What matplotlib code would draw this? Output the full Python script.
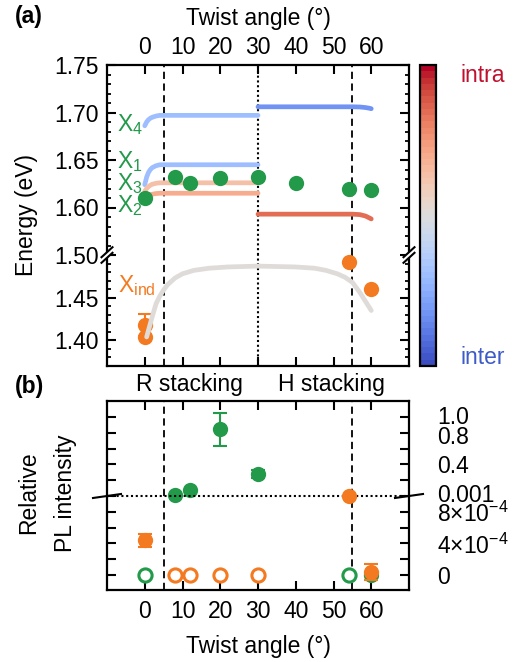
import matplotlib
matplotlib.use("Agg")
import matplotlib.pyplot as plt
import numpy as np
from matplotlib.transforms import ScaledTranslation
from matplotlib.patches import Polygon
from matplotlib.lines import Line2D
from matplotlib.cm import ScalarMappable
from matplotlib.colors import Normalize
from matplotlib.ticker import MultipleLocator

plt.rcParams.update({
    "font.family": ["Liberation Sans", "DejaVu Sans"],
    "font.size": 16.5,
    "mathtext.fontset": "custom",
    "mathtext.rm": "Liberation Sans",
    "mathtext.it": "Liberation Sans:italic",
    "mathtext.bf": "Liberation Sans:bold",
    "axes.linewidth": 1.6,
    "xtick.direction": "in",
    "ytick.direction": "in",
    "xtick.major.size": 6.5,
    "ytick.major.size": 6.5,
    "xtick.minor.size": 3.2,
    "ytick.minor.size": 3.2,
    "xtick.major.width": 1.5,
    "ytick.major.width": 1.5,
    "xtick.minor.width": 1.3,
    "ytick.minor.width": 1.3,
})

GREEN = "#23994a"
ORANGE = "#f47a22"
CMAP = plt.get_cmap("coolwarm", 48)

# ---------------- data: panel (a), PL peak energies ----------------
angles_direct = [0, 8, 12, 20, 30, 40, 54, 60]
energy_direct = [1.610, 1.632, 1.626, 1.631, 1.632, 1.6255, 1.619, 1.618]

angles_indirect = [0, 0, 54, 60]
energy_indirect = [1.418, 1.404, 1.492, 1.460]
energy_indirect_err = [0.013, 0.0, 0.0, 0.0]

# calculated exciton energies, R stacking (0-30 deg)
angles_R = [0, 0.5, 1, 1.5, 2, 3, 4, 6, 30]
energy_X4_R = [1.686, 1.690, 1.6925, 1.694, 1.695, 1.6963, 1.697, 1.697, 1.697]
energy_X1_R = [1.624, 1.632, 1.637, 1.640, 1.642, 1.644, 1.645, 1.645, 1.645]
energy_X3_R = [1.617, 1.620, 1.622, 1.6235, 1.6245, 1.6255, 1.626, 1.626, 1.626]
energy_X2_R = [1.609, 1.611, 1.6125, 1.6135, 1.614, 1.6147, 1.615, 1.615, 1.615]

# calculated exciton energies, H stacking (30-60 deg)
angles_H = [30, 55, 57, 58.5, 59.5, 60]
energy_X4_H = [1.706, 1.706, 1.7058, 1.7052, 1.7045, 1.704]
energy_X2_H = [1.593, 1.593, 1.5925, 1.591, 1.589, 1.588]

# calculated indirect exciton energy
angles_ind = [0.5, 1, 2, 3, 4, 5, 6, 8, 10, 13, 17, 22, 30, 40, 45, 48, 51,
              53, 55, 57, 59, 60]
energy_ind = [1.404, 1.412, 1.428, 1.443, 1.452, 1.459, 1.465, 1.473, 1.478,
              1.482, 1.4845, 1.486, 1.487, 1.486, 1.4845, 1.482, 1.478,
              1.474, 1.468, 1.456, 1.442, 1.435]

# intra/inter-layer character of each calculated state (0 = inter, 1 = intra)
char_X4_R, char_X1_R, char_X3_R, char_X2_R = 0.30, 0.31, 0.64, 0.69
char_X4_H, char_X2_H, char_ind = 0.17, 0.84, 0.50

# ---------------- data: panel (b), relative PL intensity ----------------
angles_dir_hi = [8, 12, 20, 30]
rel_dir_hi = [0.018, 0.072, 0.843, 0.276]
rel_dir_hi_err = [0.0, 0.0, 0.21, 0.05]

angles_dir_lo = [60]
rel_dir_lo = [0.0]

angles_ind_lo = [0, 54, 60]
rel_ind_lo = [4.4e-4, 1.0e-3, 0.4e-4]
rel_ind_lo_err = [0.85e-4, 0.0, 1.0e-4]

angles_dir_none = [0, 54]
angles_ind_none = [8, 12, 20, 30]

angle_ticks = [0, 10, 20, 30, 40, 50, 60]
stacking_boundaries = [5, 55]

# ---------------- layout ----------------
W, H = 515, 662
fig = plt.figure(figsize=(W / 100, H / 100), dpi=100)


def fax(x0, y0, x1, y1):
    return fig.add_axes([x0 / W, 1 - y1 / H, (x1 - x0) / W, (y1 - y0) / H])


def nudge(label, dy_px):
    label.set_transform(label.get_transform()
                        + ScaledTranslation(0, dy_px / 100,
                                            fig.dpi_scale_trans))


ax_ahi = fax(107, 65, 409, 255)
ax_alo = fax(107, 255, 409, 366)
ax_bhi = fax(107, 401, 409, 496)
ax_blo = fax(107, 496, 409, 590)
cax = fax(420, 65, 436, 366)

for ax in (ax_ahi, ax_alo, ax_bhi, ax_blo):
    ax.set_xlim(-10, 70)
    ax.set_xticks(angle_ticks)
    ax.tick_params(which="both", left=True, right=True, top=True, bottom=True)
    ax.patch.set_visible(False)

for ax in (ax_ahi, ax_bhi):
    ax.spines["bottom"].set_visible(False)
    ax.tick_params(which="both", bottom=False, labelbottom=False)
for ax in (ax_alo, ax_blo):
    ax.spines["top"].set_visible(False)
    ax.tick_params(which="both", top=False, labeltop=False)

# panel (a) axes
ax_ahi.set_ylim(1.55, 1.75)
ax_ahi.set_yticks([1.60, 1.65, 1.70, 1.75])
ax_ahi.yaxis.set_minor_locator(MultipleLocator(0.01))
ax_ahi.yaxis.set_major_formatter(plt.FormatStrFormatter("%.2f"))
ax_ahi.tick_params(axis="x", labeltop=True, pad=4)
ax_ahi.tick_params(axis="y", pad=6)

ax_alo.set_ylim(1.37, 1.50)
ax_alo.set_yticks([1.40, 1.45, 1.50])
ax_alo.yaxis.set_minor_locator(MultipleLocator(0.01))
ax_alo.yaxis.set_major_formatter(plt.FormatStrFormatter("%.2f"))
ax_alo.tick_params(axis="x", labelbottom=False)
ax_alo.tick_params(axis="y", pad=6)

# panel (b) axes
ax_bhi.set_ylim(0.001, 1.2)
ax_bhi.set_yticks([0.2, 0.4, 0.6, 0.8, 1.0])
ax_bhi.set_yticklabels(["", "0.4", "", "0.8", "1.0"])
ax_bhi.tick_params(axis="y", labelleft=False, labelright=True, pad=20)
bhi_labels = ax_bhi.get_yticklabels()
nudge(bhi_labels[4], 2)
nudge(bhi_labels[3], -2)

ax_blo.set_ylim(-0.00019, 0.001)
ax_blo.set_yticks([0, 2e-4, 4e-4, 6e-4, 8e-4, 1e-3])
ax_blo.set_yticklabels(["0", "", "4×10$^{-4}$", "", "8×10$^{-4}$", "0.001"])
ax_blo.tick_params(axis="y", labelleft=False, labelright=True, pad=20)
ax_blo.tick_params(axis="x", pad=7)
ax_blo.set_xlabel("Twist angle (°)", labelpad=9)
nudge(ax_blo.get_yticklabels()[5], 3)

ax_ahi.xaxis.set_label_position("top")
ax_ahi.set_xlabel("Twist angle (°)", labelpad=8)

# stacking boundaries and the 30 degree line
for ax in (ax_ahi, ax_alo, ax_bhi, ax_blo):
    for b in stacking_boundaries:
        ax.axvline(b, color="k", lw=1.3, ls=(0, (4, 2.5)), zorder=1)
for ax in (ax_ahi, ax_alo):
    ax.axvline(30, color="k", lw=1.5, ls=(0, (1, 1.3)), zorder=1)

# calculated curves
curve_kw = dict(lw=3.4, solid_capstyle="round", zorder=2)
ax_ahi.plot(angles_R, energy_X4_R, color=CMAP(char_X4_R), **curve_kw)
ax_ahi.plot(angles_R, energy_X1_R, color=CMAP(char_X1_R), **curve_kw)
ax_ahi.plot(angles_R, energy_X3_R, color=CMAP(char_X3_R), **curve_kw)
ax_ahi.plot(angles_R, energy_X2_R, color=CMAP(char_X2_R), **curve_kw)
ax_ahi.plot(angles_H, energy_X4_H, color=CMAP(char_X4_H), **curve_kw)
ax_ahi.plot(angles_H, energy_X2_H, color=CMAP(char_X2_H), **curve_kw)
ax_alo.plot(angles_ind, energy_ind, color=CMAP(char_ind),
            lw=3.4, solid_capstyle="round", zorder=4)

# measured peaks
ax_ahi.plot(angles_direct, energy_direct, "o", color=GREEN, ms=11,
            mec="none", zorder=3, clip_on=False)
ax_alo.plot(angles_indirect, energy_indirect, "o", color=ORANGE, ms=11,
            mec="none", zorder=3, clip_on=False)
err_mask = np.array(energy_indirect_err) > 0
ax_alo.errorbar(np.array(angles_indirect)[err_mask],
                np.array(energy_indirect)[err_mask],
                yerr=np.array(energy_indirect_err)[err_mask], fmt="none",
                ecolor=ORANGE, elinewidth=1.5, capsize=5, capthick=1.5,
                zorder=3)

# state labels
lab_kw = dict(color=GREEN, ha="left", va="baseline", fontsize=16.5)
ax_ahi.text(-7.4, 1.680, r"X$_{4}$", **lab_kw)
ax_ahi.text(-7.4, 1.641, r"X$_{1}$", **lab_kw)
ax_ahi.text(-7.4, 1.618, r"X$_{3}$", **lab_kw)
ax_ahi.text(-7.4, 1.5956, r"X$_{2}$", clip_on=False, **lab_kw)
ax_alo.text(-7.0, 1.4565, r"X$_\mathrm{ind}$", color=ORANGE, ha="left",
            va="baseline", fontsize=16.5)

# panel (b) points
pt = dict(ms=11, mec="none", clip_on=False, zorder=3)
ax_bhi.plot(angles_dir_hi, rel_dir_hi, "o", color=GREEN, **pt)
m = np.array(rel_dir_hi_err) > 0
ax_bhi.errorbar(np.array(angles_dir_hi)[m], np.array(rel_dir_hi)[m],
                yerr=np.array(rel_dir_hi_err)[m], fmt="none", ecolor=GREEN,
                elinewidth=1.5, capsize=5, capthick=1.5, zorder=3)
ax_blo.plot(angles_dir_lo, rel_dir_lo, "o", color=GREEN, **pt)
ax_blo.plot(angles_ind_lo, rel_ind_lo, "o", color=ORANGE,
            ms=11, mec="none", clip_on=False, zorder=4)
m = np.array(rel_ind_lo_err) > 0
ax_blo.errorbar(np.array(angles_ind_lo)[m], np.array(rel_ind_lo)[m],
                yerr=np.array(rel_ind_lo_err)[m], fmt="none", ecolor=ORANGE,
                elinewidth=1.5, capsize=5, capthick=1.5, zorder=4)
open_kw = dict(ms=9.5, mfc="white", mew=2.2, clip_on=False, zorder=3)
ax_blo.plot(angles_dir_none, np.zeros(len(angles_dir_none)), "o",
            mec=GREEN, **open_kw)
ax_blo.plot(angles_ind_none, np.zeros(len(angles_ind_none)), "o",
            mec=ORANGE, **open_kw)
ax_blo.axhline(1e-3, color="k", lw=1.5, ls=(0, (1, 1.3)), zorder=2,
               clip_on=False)


# axis break marks
def double_break(ax, xa):
    t = fig.dpi_scale_trans + ScaledTranslation(xa, 1.0, ax.transAxes)
    w, h, g = 0.055, 0.05, 0.028
    poly = Polygon([(-w, -h - g), (w, h - g), (w, h + g), (-w, -h + g)],
                   closed=True, fc="white", ec="none", transform=t,
                   clip_on=False, zorder=10)
    ax.add_artist(poly)
    for s in (-g, g):
        ax.add_artist(Line2D([-w, w], [-h + s, h + s], color="k", lw=1.5,
                             transform=t, clip_on=False, zorder=11))


def single_break(ax, xa):
    t = fig.dpi_scale_trans + ScaledTranslation(xa, 1.0, ax.transAxes)
    ax.add_artist(Line2D([-0.14, 0.14], [-0.02, 0.02], color="k", lw=1.5,
                         transform=t, clip_on=False, zorder=11))


double_break(ax_alo, 0.0)
double_break(ax_alo, 1.0)
single_break(ax_blo, 0.0)
single_break(ax_blo, 1.0)

# colour bar
cb = fig.colorbar(ScalarMappable(norm=Normalize(0, 1), cmap=CMAP), cax=cax,
                  ticks=[])
cb.outline.set_linewidth(1.6)
fig.text(460 / W, 1 - 75 / H, "intra", color="#c0102e", ha="left",
         va="center")
fig.text(460 / W, 1 - 357 / H, "inter", color="#3e5cc8", ha="left",
         va="center")

# labels
fig.text(26 / W, 1 - 215 / H, "Energy (eV)", rotation=90, ha="center",
         va="center")
fig.text(47 / W, 1 - 493 / H, "Relative\nPL intensity", rotation=90,
         ha="center", va="center", multialignment="center", linespacing=1.75)
fig.text(15 / W, 1 - 16 / H, "(a)", fontweight="bold", ha="left",
         va="center")
fig.text(15 / W, 1 - 386 / H, "(b)", fontweight="bold", ha="left",
         va="center")
fig.text(189 / W, 1 - 385 / H, "R stacking", ha="center", va="center")
fig.text(331 / W, 1 - 385 / H, "H stacking", ha="center", va="center")

fig.savefig("out.png", dpi=100)
